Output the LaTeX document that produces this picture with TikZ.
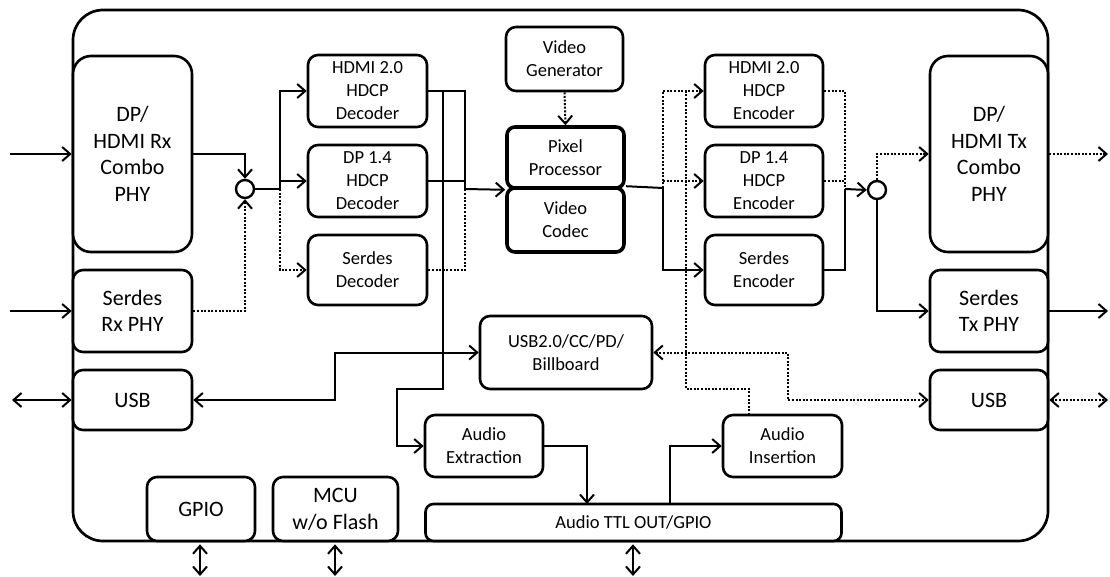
\documentclass[tikz,border=0pt]{standalone}
\usepackage{fontspec}
\setmainfont{Carlito}
\usetikzlibrary{arrows.meta}
\begin{document}
\begin{tikzpicture}[x=1pt,y=-1pt,
  >={Straight Barb[length=8pt,width=14pt]},
  blk/.style={draw, line width=2.6pt, rounded corners=10pt, fill=white, inner sep=0pt, align=center, font=\fontsize{18.5}{23}\selectfont},
  side/.style={blk, font=\fontsize{22}{26.5}\selectfont},
  big/.style={side, rounded corners=18pt},
  core/.style={blk, line width=3.6pt, rounded corners=8pt},
  junc/.style={circle, draw, line width=2.4pt, minimum size=18pt, inner sep=0pt, fill=white},
  ln/.style={line width=2pt},
  dt/.style={line width=2pt, dash pattern=on 2pt off 1.6pt}]
\useasboundingbox (0,0) rectangle (1110,577);
% frame
\draw[line width=2.7pt, rounded corners=30pt] (73,10) rectangle (1048,541);
% left side
\node[big, minimum width=119pt, minimum height=196pt] (rxphy) at (132.5,154) {DP/\\HDMI Rx\\Combo\\PHY};
\node[side, minimum width=119pt, minimum height=82pt] (rxser) at (132.5,311) {Serdes\\Rx PHY};
\node[side, minimum width=119pt, minimum height=60pt] (usbL) at (132.5,400) {USB};
% decoders
\node[blk, minimum width=119pt, minimum height=72pt] (hdmidec) at (367.5,91) {HDMI 2.0\\HDCP\\Decoder};
\node[blk, minimum width=119pt, minimum height=72pt] (dpdec) at (367.5,181) {DP 1.4\\HDCP\\Decoder};
\node[blk, minimum width=119pt, minimum height=70pt] (serdec) at (367.5,270) {Serdes\\Decoder};
% core
\node[blk, minimum width=117pt, minimum height=64pt] (vgen) at (564.5,59) {Video\\Generator};
\node[core, minimum width=117pt, minimum height=61pt] (pix) at (565.5,157.5) {Pixel\\Processor};
\node[core, minimum width=117pt, minimum height=64pt] (codec) at (565.5,220) {Video\\Codec};
% encoders
\node[blk, minimum width=118pt, minimum height=72pt] (hdmienc) at (764,91) {HDMI 2.0\\HDCP\\Encoder};
\node[blk, minimum width=118pt, minimum height=72pt] (dpenc) at (764,181) {DP 1.4\\HDCP\\Encoder};
\node[blk, minimum width=118pt, minimum height=70pt] (serenc) at (764,270) {Serdes\\Encoder};
% right side
\node[big, minimum width=118pt, minimum height=196pt] (txphy) at (989,154) {DP/\\HDMI Tx\\Combo\\PHY};
\node[side, minimum width=118pt, minimum height=82pt] (txser) at (989,311) {Serdes\\Tx PHY};
\node[side, minimum width=118pt, minimum height=60pt] (usbR) at (989,400) {USB};
% middle lower
\node[blk, minimum width=172pt, minimum height=73pt] (bill) at (566,352.5) {USB2.0/CC/PD/\\Billboard};
\node[blk, minimum width=118pt, minimum height=62pt] (aext) at (484,446) {Audio\\Extraction};
\node[blk, minimum width=119pt, minimum height=62pt] (ains) at (782.5,446) {Audio\\Insertion};
% bottom
\node[side, minimum width=108pt, minimum height=64pt] (gpio) at (201,509) {GPIO};
\node[side, minimum width=125pt, minimum height=64pt, font=\fontsize{22}{27}\selectfont] (mcu) at (335.5,509) {MCU\\w/o Flash};
\node[blk, rounded corners=8pt, minimum width=416pt, minimum height=37pt] (ttl) at (633.5,522.5) {Audio TTL OUT/GPIO};
% junction circles
\node[junc] (cL) at (245,189) {};
\node[junc] (cR) at (877,190) {};
% coordinates
\coordinate (inA) at (10,154);
\coordinate (inB) at (10,311);
\coordinate (inC) at (12,400);
\coordinate (outA) at (1108,154);
\coordinate (outB) at (1108,311);
\coordinate (outC) at (1108,400);
\coordinate (jL) at (280,189);
\coordinate (jD) at (465,189);
\coordinate (jE) at (663,188);
\coordinate (jR) at (845,189);
\coordinate (aud) at (443,91);
\coordinate (a1) at (443,389);
\coordinate (a2) at (397,389);
\coordinate (ai0) at (749,415);
\coordinate (ai1) at (749,389);
\coordinate (ai2) at (686,389);
\coordinate (ai3) at (686,91);
\coordinate (u1) at (788,352.5);
\coordinate (u2) at (788,400);
\coordinate (v1) at (335,400);
\coordinate (v2) at (335,352.5);
\coordinate (t1) at (587,504);
\coordinate (t2) at (670,504);
\coordinate (b1) at (200,576);
\coordinate (b2) at (335,576);
\coordinate (b3) at (633,576);
% inputs
\draw[ln,->] (inA) -- (rxphy.west);
\draw[ln,->] (inB) -- (rxser.west);
\draw[ln,<->] (inC) -- (usbL.west);
% rx to junction
\draw[ln,->] (rxphy.east) -| (cL.north);
\draw[dt,->] (rxser.east) -| (cL.south);
\draw[ln] (cL.east) -- (jL);
\draw[ln,->] (jL) |- (hdmidec.west);
\draw[ln,->] (jL |- dpdec.west) -- (dpdec.west);
\draw[dt,->] (jL) |- (serdec.west);
% decoders to core
\draw[ln] (hdmidec.east) -| (jD);
\draw[ln] (dpdec.east) -- (dpdec.east -| jD);
\draw[dt] (serdec.east) -| (jD);
\draw[ln,->] (jD) -- (pix.south west);
% audio extraction branch
\draw[ln,->] (aud) -- (a1) -- (a2) |- (aext.west);
% video generator
\draw[dt,->] (vgen.south) -- (pix.north);
% core to encoders
\draw[ln] (codec.north east) -- (jE);
\draw[ln,->] (jE) |- (serenc.west);
\draw[dt,->] (jE) |- (hdmienc.west);
\draw[dt,->] (jE |- dpenc.west) -- (dpenc.west);
% audio insertion to encoders
\draw[dt] (ai0) -- (ai1) -- (ai2) -- (ai3);
% USB links
\draw[dt,<->] (bill.east) -- (u1) -- (u2) -- (usbR.west);
\draw[ln,<->] (usbL.east) -- (v1) -- (v2) -- (bill.west);
% encoders to junction
\draw[dt] (hdmienc.east) -| (jR);
\draw[dt] (dpenc.east) -- (dpenc.east -| jR);
\draw[ln] (serenc.east) -| (jR);
\draw[ln,->] (jR) -- (cR.west);
\draw[dt,->] (cR.north) |- (txphy.west);
\draw[ln,->] (cR.south) |- (txser.west);
% outputs
\draw[dt,->] (txphy.east) -- (outA);
\draw[ln,->] (txser.east) -- (outB);
\draw[dt,<->] (usbR.east) -- (outC);
% audio TTL
\draw[ln,->] (aext.east) -| (t1);
\draw[ln,->] (t2) |- (ains.west);
% bottom I/O
\draw[ln,<->,shorten <=2pt] (gpio.south -| b1) -- (b1);
\draw[ln,<->,shorten <=2pt] (mcu.south -| b2) -- (b2);
\draw[ln,<->,shorten <=2pt] (ttl.south -| b3) -- (b3);
\end{tikzpicture}
\end{document}
